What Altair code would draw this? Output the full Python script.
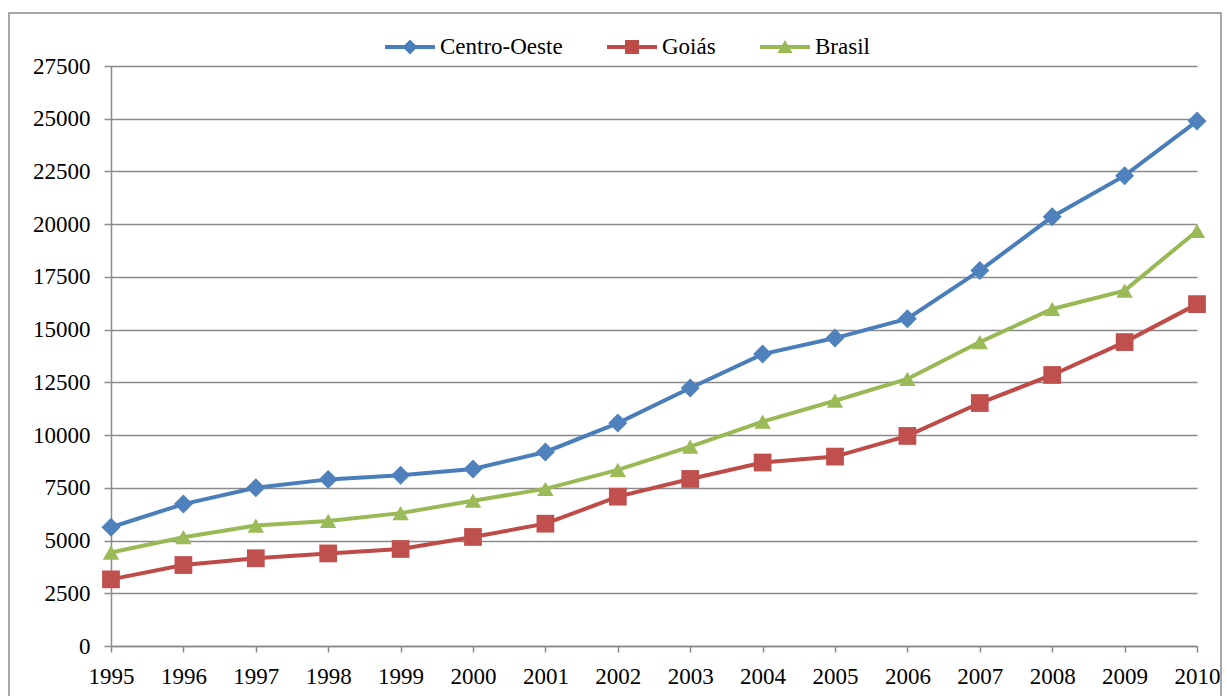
import altair as alt
import pandas as pd

# ---- data ----
anos = list(range(1995, 2011))
centro_oeste = [5630, 6730, 7500, 7900, 8100, 8390, 9200, 10570, 12230, 13840, 14600, 15520, 17800, 20350, 22300, 24890]
goias = [3160, 3840, 4160, 4390, 4600, 5170, 5800, 7080, 7920, 8700, 8980, 9960, 11520, 12850, 14410, 16210]
brasil = [4430, 5160, 5710, 5930, 6300, 6890, 7450, 8350, 9450, 10640, 11630, 12660, 14410, 15980, 16850, 19680]

series = ["Centro-Oeste", "Goiás", "Brasil"]
line_colors = ["#4A7EBB", "#BE4B48", "#98B954"]
marker_colors = ["#4F81BD", "#C0504D", "#9BBB59"]
y_ticks = list(range(0, 27501, 2500))

rows = []
for nome, vals in zip(series, [centro_oeste, goias, brasil]):
    for a, v in zip(anos, vals):
        rows.append({"ano": a, "valor": v, "serie": nome})
df = pd.DataFrame(rows)

FONT = "Liberation Serif"
GRAY = "#8a8a8a"

x_enc = alt.X(
    "ano:Q",
    scale=alt.Scale(domain=[1995, 2010], nice=False, zero=False),
    axis=alt.Axis(values=anos, format="d", grid=False, tickSize=6, labelPadding=13,
                  domainColor=GRAY, tickColor=GRAY, domainWidth=1.5, tickWidth=1.5,
                  labelFlush=False, labelOverlap=False, title=None),
)
y_enc = alt.Y(
    "valor:Q",
    scale=alt.Scale(domain=[0, 27500], nice=False),
    axis=alt.Axis(values=y_ticks, format="d", grid=True, gridColor=GRAY, gridWidth=1.5,
                  tickSize=7, labelPadding=14, domainColor=GRAY, tickColor=GRAY,
                  domainWidth=1.5, tickWidth=1.5, title=None),
)

frame = alt.Chart(pd.DataFrame({"k": [0]})).mark_rect(
    fill="white", fillOpacity=0, stroke="#8c8c8c", strokeWidth=1.5
).encode(
    x=alt.value(-102), x2=alt.value(1110), y=alt.value(-53), y2=alt.value(720)
)

lines = alt.Chart(df).mark_line(strokeWidth=4).encode(
    x=x_enc, y=y_enc,
    color=alt.Color("serie:N", scale=alt.Scale(domain=series, range=line_colors), legend=None),
)

points = alt.Chart(df).mark_point(filled=True, opacity=1).encode(
    x=x_enc, y=y_enc,
    color=alt.Color("serie:N", scale=alt.Scale(domain=series, range=marker_colors), legend=None),
    shape=alt.Shape("serie:N", scale=alt.Scale(domain=series, range=["diamond", "square", "triangle-up"]), legend=None),
    size=alt.Size("serie:N", scale=alt.Scale(domain=series, range=[360, 270, 400]), legend=None),
)

legend_paths = [
    "M-1,-0.08H1V0.08H-1Z M0,-0.3L0.3,0L0,0.3L-0.3,0Z",
    "M-1,-0.08H1V0.08H-1Z M-0.28,-0.28H0.28V0.28H-0.28Z",
    "M-1,-0.08H1V0.08H-1Z M0,-0.28L0.3,0.24H-0.3Z",
]
leg = dict(orient="none", legendX=274, legendY=-44, direction="horizontal",
           symbolSize=2500, symbolStrokeWidth=0, labelFont=FONT, labelFontSize=23,
           labelColor="black", labelOffset=5, columnPadding=44, padding=0, title=None)

legend_layer = alt.Chart(df).transform_filter("datum.valor < 0").mark_point(
    filled=True, opacity=1
).encode(
    x=x_enc, y=y_enc,
    color=alt.Color("serie:N", scale=alt.Scale(domain=series, range=line_colors), legend=alt.Legend(**leg)),
    shape=alt.Shape("serie:N", scale=alt.Scale(domain=series, range=legend_paths), legend=alt.Legend(**leg)),
)

chart = alt.layer(frame, lines, points, legend_layer).resolve_scale(
    color="independent", shape="independent"
).resolve_legend(
    color="independent", shape="independent"
).properties(
    width=1086, height=580,
    autosize=alt.AutoSizeParams(type="none"),
    padding={"left": 111, "top": 66, "right": 30, "bottom": 50},
    background="white",
).configure(font=FONT).configure_view(stroke=None).configure_axis(
    labelFont=FONT, labelFontSize=23, labelColor="black"
).configure_legend(
    labelFont=FONT, labelFontSize=23, labelColor="black"
)

chart.save("out.html", embed_options={"renderer": "svg", "actions": False})
